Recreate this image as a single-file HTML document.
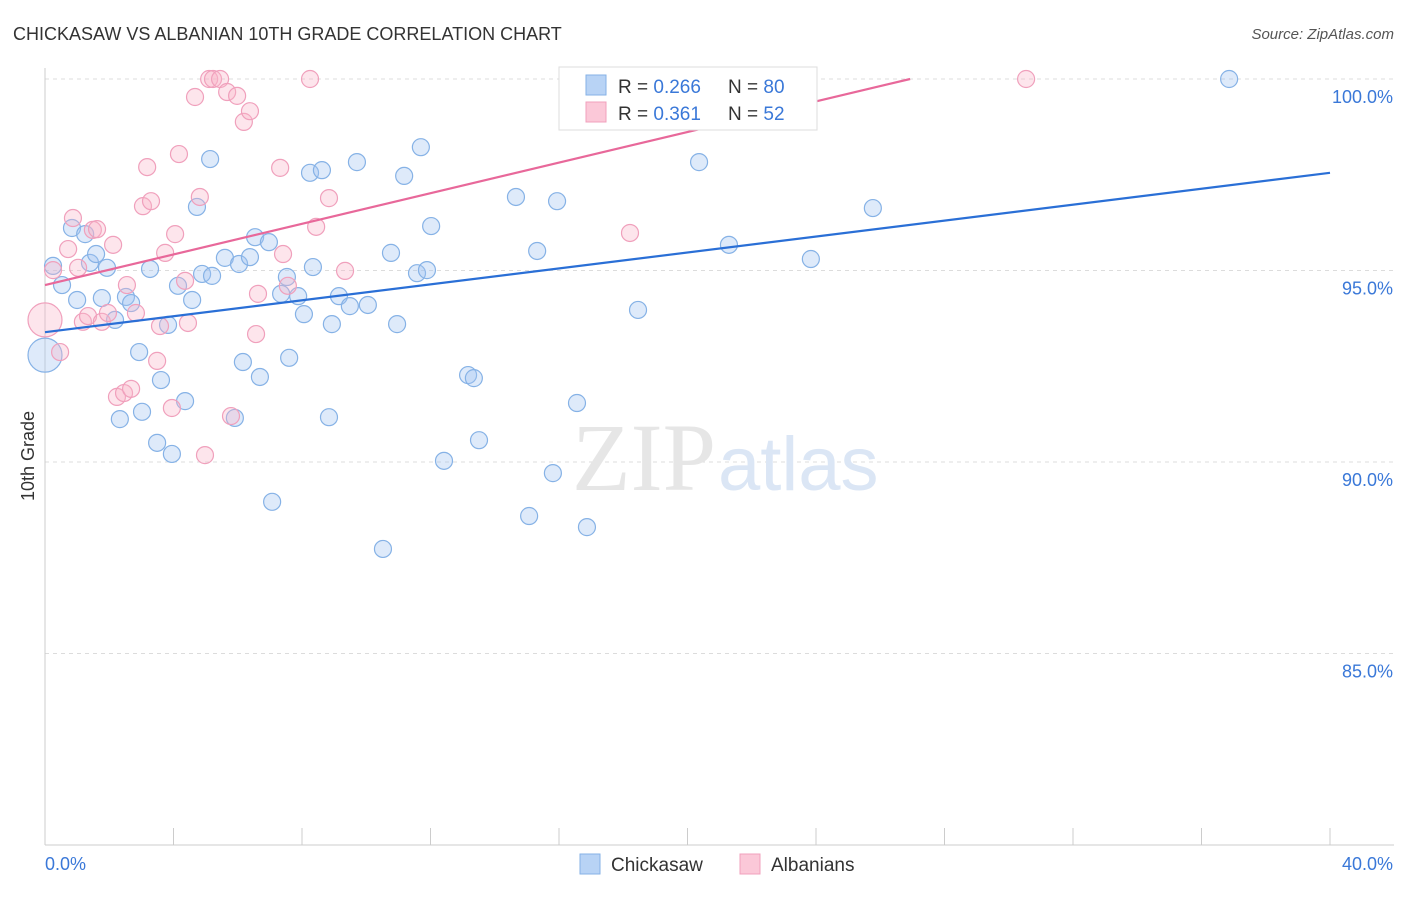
<!DOCTYPE html>
<html><head><meta charset="utf-8"><style>
body{margin:0;background:#fff;font-family:"Liberation Sans",sans-serif}
</style></head><body>
<svg width="1406" height="892" xmlns="http://www.w3.org/2000/svg">
<text x="13" y="40" font-size="18" fill="#333">CHICKASAW VS ALBANIAN 10TH GRADE CORRELATION CHART</text>
<text x="1394" y="39" font-size="15" fill="#555" font-style="italic" text-anchor="end">Source: ZipAtlas.com</text>
<g id="grid"></g>
<g id="axes"></g>
<text x="716" y="490" font-size="96" fill="#e6e6e6" text-anchor="end" font-family="Liberation Serif">ZIP</text>
<text x="718" y="490" font-size="76" fill="#dbe6f5">atlas</text>
<g id="pts"></g>
<g id="lines"></g>
<text transform="translate(34,456) rotate(-90)" font-size="18" fill="#333" text-anchor="middle">10th Grade</text>
<text x="45" y="870" font-size="18" fill="#3a78d8">0.0%</text>
<text x="1393" y="870" font-size="18" fill="#3a78d8" text-anchor="end">40.0%</text>
<g>
<rect x="559" y="67" width="258" height="63" fill="#fff" stroke="#ddd"/>
<rect x="586" y="75" width="20" height="20" fill="#b8d3f5" stroke="#86b2e6"/>
<rect x="586" y="102" width="20" height="20" fill="#fbc8d8" stroke="#f0a0bc"/>
<text x="618" y="93" font-size="19" fill="#333">R = <tspan fill="#3a78d8">0.266</tspan><tspan x="728">N = </tspan><tspan fill="#3a78d8">80</tspan></text>
<text x="618" y="120" font-size="19" fill="#333">R = <tspan fill="#3a78d8"> 0.361</tspan><tspan x="728">N = </tspan><tspan fill="#3a78d8">52</tspan></text>
</g>
<g>
<rect x="580" y="854" width="20" height="20" fill="#b8d3f5" stroke="#86b2e6"/>
<text x="611" y="871" font-size="19" fill="#333">Chickasaw</text>
<rect x="740" y="854" width="20" height="20" fill="#fbc8d8" stroke="#f0a0bc"/>
<text x="771" y="871" font-size="19" fill="#333">Albanians</text>
</g>
</svg>
<script>
const yTicks=[100,95,90,85];
const yTickLabels=["100.0%","95.0%","90.0%","85.0%"];
const xTicks=[0,4,8,12,16,20,24,28,32,36,40];
const blueX=[0.25,0.53,0.84,1.00,1.25,1.40,1.59,1.77,1.93,2.18,2.33,2.52,2.68,2.93,3.02,3.27,3.49,3.61,3.83,3.95,4.14,4.36,4.58,4.73,4.89,5.14,5.20,5.60,5.91,6.04,6.16,6.38,6.54,6.69,6.97,7.07,7.35,7.53,7.60,7.88,8.06,8.25,8.34,8.62,8.84,8.93,9.15,9.49,9.71,10.05,10.52,10.77,10.96,11.18,11.58,11.70,11.89,12.02,12.42,13.17,13.35,13.51,14.66,15.07,15.32,15.81,15.94,16.56,16.87,18.33,18.46,20.36,21.04,21.29,23.84,25.77,36.86,0];
const blueY=[95.12,94.62,96.11,94.23,95.95,95.20,95.43,94.28,95.07,93.71,91.12,94.31,94.15,92.87,91.31,95.04,90.50,92.14,93.58,90.21,94.60,91.59,94.23,96.66,94.91,97.91,94.86,95.33,91.15,95.17,92.61,95.35,95.87,92.22,95.74,88.96,94.39,94.83,92.72,94.33,93.86,97.55,95.09,97.62,91.17,93.60,94.33,94.07,97.83,94.10,87.73,95.46,93.60,97.47,94.93,98.22,95.01,96.16,90.03,92.27,92.19,90.57,96.92,88.59,95.51,89.71,96.81,91.54,88.30,100,93.97,97.83,100,95.67,95.30,96.63,100,92.79];
const pinkX=[0,0.25,0.47,0.72,0.87,1.03,1.18,1.34,1.49,1.62,1.77,1.96,2.12,2.24,2.46,2.55,2.68,2.83,3.05,3.18,3.30,3.49,3.58,3.74,3.95,4.05,4.17,4.36,4.45,4.67,4.82,4.98,5.11,5.23,5.45,5.67,5.79,5.98,6.19,6.38,6.63,6.57,7.32,7.41,7.56,8.25,8.44,8.84,9.34,18.21,30.54];
const pinkY=[93.71,95.01,92.87,95.56,96.37,95.07,93.66,93.81,96.06,96.08,93.66,93.89,95.67,91.70,91.80,94.62,91.91,93.89,96.68,97.70,96.81,92.64,93.55,95.46,91.41,95.95,98.04,94.73,93.63,99.53,96.92,90.18,100,100,100,99.66,91.20,99.56,98.88,99.16,94.39,93.34,97.68,95.43,94.60,100,96.14,96.89,94.99,95.98,100];
const blueLine=[[0,93.39],[40,97.55]];
const pinkLine=[[0,94.62],[26.93,100]];
const NS="http://www.w3.org/2000/svg";
const sx=v=>45+v*32.125, sy=v=>79+(100-v)*38.3;
function mk(tag,at,parent){const e=document.createElementNS(NS,tag);for(const k in at)e.setAttribute(k,at[k]);document.getElementById(parent).appendChild(e);return e;}
yTicks.forEach((t,i)=>{
 const l=mk('line',{x1:45,x2:1394,y1:sy(t),y2:sy(t),stroke:'#dcdcdc','stroke-dasharray':'4,4'},'grid');
 
 
 const tx=mk('text',{x:1393,y:sy(t)+24,'font-size':18,fill:'#3a78d8','text-anchor':'end'},'grid');
 tx.textContent=yTickLabels[i];
 
 
});
const ya=mk('line',{x1:45,x2:45,y1:68,y2:845,stroke:'#ccc'},'axes');


const xa=mk('line',{x1:45,x2:1394,y1:845,y2:845,stroke:'#ccc'},'axes');


xTicks.forEach(t=>{const l=mk('line',{x1:sx(t),x2:sx(t),y1:828,y2:845,stroke:'#ccc'},'axes');
 
 });
function pts(X,Y,fill,stroke,name){X.forEach((x,i)=>{const big=(x===0&&i===(name==='blue-point'?X.length-1:0));
 const c=mk('circle',{cx:sx(x),cy:sy(Y[i]),r:big?17:8.5,fill:fill,stroke:stroke,'stroke-width':1.2},'pts');
 
 });}
pts(blueX,blueY,'rgba(160,196,240,0.35)','#86b2e6','blue-point');
pts(pinkX,pinkY,'rgba(248,180,200,0.35)','#f0a0bc','pink-point');
const bl=mk('line',{x1:sx(blueLine[0][0]),y1:sy(blueLine[0][1]),x2:sx(blueLine[1][0]),y2:sy(blueLine[1][1]),stroke:'#2a6fd6','stroke-width':2.2},'lines');


const pl=mk('line',{x1:sx(pinkLine[0][0]),y1:sy(pinkLine[0][1]),x2:sx(pinkLine[1][0]),y2:sy(pinkLine[1][1]),stroke:'#e8689a','stroke-width':2.2},'lines');


</script>
</body></html>
